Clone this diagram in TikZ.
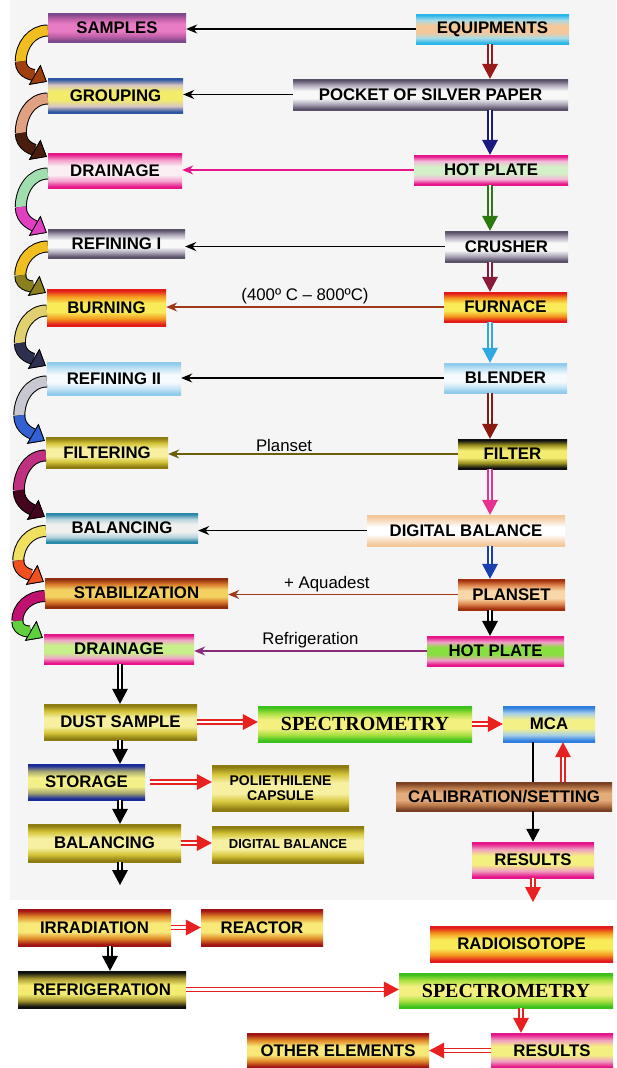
\documentclass[tikz,border=0pt]{standalone}
\usepackage{fontspec}
\setmainfont{Liberation Sans}
\newfontfamily\timesbold{Liberation Serif}
\usepackage{tikz}
\usetikzlibrary{arrows.meta, calc}
\usepackage{xcolor}

% stripe shading for the boxes: dark rim, soft band, light core
\pgfdeclareverticalshading[bandedge,bandmid,bandcore]{band}{100bp}{%
  color(0bp)=(bandedge); color(27bp)=(bandedge); color(35bp)=(bandmid);
  color(44bp)=(bandcore); color(56bp)=(bandcore); color(65bp)=(bandmid);
  color(73bp)=(bandedge); color(100bp)=(bandedge)}

\definecolor{crose}{HTML}{E6168A}
\definecolor{cred}{HTML}{E82020}
\definecolor{cbrown}{HTML}{A0381A}
\definecolor{cpurple}{HTML}{8A2A7A}
\definecolor{colivel}{HTML}{6A6008}
% chain arrows
\definecolor{dmaroon}{HTML}{9A1A1A}
\definecolor{dnavy}{HTML}{1A1A80}
\definecolor{dgreen}{HTML}{2A7A10}
\definecolor{dwine}{HTML}{8A1A3A}
\definecolor{dsky}{HTML}{30A8E0}
\definecolor{drust}{HTML}{8A1A10}
\definecolor{dpink}{HTML}{E83090}
\definecolor{dblue}{HTML}{1A40B0}
% curled arrows
\definecolor{cgold}{HTML}{F0BE1E}
\definecolor{cbark}{HTML}{A0400E}
\definecolor{csalmon}{HTML}{E0A082}
\definecolor{cdark}{HTML}{4A1E0E}
\definecolor{cmint}{HTML}{A0DEB0}
\definecolor{cpink}{HTML}{E040C0}
\definecolor{colive}{HTML}{8A8020}
\definecolor{ckhaki}{HTML}{E0D070}
\definecolor{cnavy}{HTML}{2E3050}
\definecolor{cgrey}{HTML}{C8C8D2}
\definecolor{cblue}{HTML}{3262D2}
\definecolor{cmag}{HTML}{C03080}
\definecolor{cwine}{HTML}{44061E}
\definecolor{cyel}{HTML}{F0E060}
\definecolor{corange}{HTML}{F05020}
\definecolor{cmagd}{HTML}{C01070}
\definecolor{cgreen}{HTML}{60D040}

\tikzset{
  box/.style n args={3}{/utils/exec={\definecolor{bandedge}{HTML}{#1}\definecolor{bandmid}{HTML}{#2}\definecolor{bandcore}{HTML}{#3}},
    shade, shading=band, inner sep=0pt, align=center,
    font=\bfseries\fontsize{16.8}{18}\selectfont},
  lbl/.style={font=\fontsize{16.8}{18}\selectfont, inner sep=2pt},
  feed/.style={draw=#1, line width=1.3pt, -{Stealth[length=11pt,width=9pt]}},
  dbl/.style={draw=#1, double=white, double distance=2.2pt, line width=1.5pt,
    -{Triangle[length=15pt,width=16pt,line width=0pt,fill=#1]}},
  curl/.style={draw=#1, line width=10pt, preaction={draw=black, line width=12pt}},
  curltip/.style={curl=#1, -{Triangle[length=14pt,width=23pt,line width=0.8pt,color=black,fill=#1]}},
}

\begin{document}
\begin{tikzpicture}[x=1pt, y=1pt]
  \useasboundingbox (0,0) rectangle (616,-1068);
  \fill[black!4] (10,0) rectangle (616,-900);
  \coordinate (spine) at (490,0);
  \coordinate (lspine) at (120,0);
  \coordinate (ispine) at (110,0);
  \coordinate (mcaline) at (533,0);
  \coordinate (mcaback) at (563,0);
  \coordinate (sspine) at (521,0);

  % left column
  \node[box={7A4A8A}{C060A8}{E87CC4}, minimum width=138pt, minimum height=29pt] (sam) at (117,-27.5) {SAMPLES};
  \node[box={2F56A0}{D8C8C0}{F2EC6A}, minimum width=135pt, minimum height=35pt] (grp) at (115.5,-95.5) {GROUPING};
  \node[box={E6168A}{F4A0CC}{FBEFF4}, minimum width=134pt, minimum height=35pt] (dr1) at (115,-170.5) {DRAINAGE};
  \node[box={5A5268}{B0AABB}{F8F8F8}, minimum width=137pt, minimum height=29pt] (rf1) at (116.5,-243.5) {REFINING I};
  \node[box={E41B1B}{F39A1E}{F9EB58}, minimum width=119pt, minimum height=37pt] (brn) at (106.5,-307.5) {BURNING};
  \node[box={8FCBEA}{C6E5F5}{F4FAFD}, minimum width=134pt, minimum height=33pt] (rf2) at (114,-378.5) {REFINING II};
  \node[box={8C7C12}{D4C53A}{F6F0A0}, minimum width=122pt, minimum height=31pt] (fil) at (107,-452.5) {FILTERING};
  \node[box={2A88A8}{B8D4DE}{F0F0F0}, minimum width=152pt, minimum height=30pt] (bal) at (122,-528) {BALANCING};
  \node[box={8E2E0E}{D8782A}{F3D060}, minimum width=183pt, minimum height=30pt] (stb) at (136.5,-593) {STABILIZATION};
  \node[box={E6168A}{F0A8C8}{C8F08A}, minimum width=150pt, minimum height=30pt] (dr2) at (119,-649) {DRAINAGE};

  % right column
  \node[box={2AB6E8}{A8DCE8}{F4C898}, minimum width=153pt, minimum height=30pt] (equ) at (492.5,-29) {EQUIPMENTS};
  \node[box={5A5268}{B0AABB}{F8F8F8}, minimum width=275pt, minimum height=31pt] (pck) at (430.5,-94.5) {POCKET OF SILVER PAPER};
  \node[box={E6168A}{F4B8D8}{D4F0C8}, minimum width=154pt, minimum height=30pt] (hp1) at (491,-170) {HOT PLATE};
  \node[box={5A5268}{B0AABB}{F8F8F8}, minimum width=123pt, minimum height=31pt] (cru) at (506.5,-246.5) {CRUSHER};
  \node[box={E41B1B}{F39A1E}{F9EB58}, minimum width=123pt, minimum height=30pt] (fur) at (505.5,-307) {FURNACE};
  \node[box={8FCBEA}{C6E5F5}{F4FAFD}, minimum width=123pt, minimum height=30pt] (bld) at (505.5,-378) {BLENDER};
  \node[box={101010}{9A9020}{F4EC70}, minimum width=109pt, minimum height=30pt] (flt) at (512.5,-454) {FILTER};
  \node[box={F2C898}{F8E0C8}{FFFFFF}, minimum width=198pt, minimum height=31pt] (dgb) at (466,-530.5) {DIGITAL BALANCE};
  \node[box={A0300E}{E08850}{F8D8A8}, minimum width=107pt, minimum height=31pt] (pls) at (511.5,-594.5) {PLANSET};
  \node[box={E6168A}{F0A0C8}{88E040}, minimum width=137pt, minimum height=30pt] (hp2) at (495.5,-651) {HOT PLATE};

  % curled arrows down the left side
  \draw[curl=cgold] ([yshift=-3pt]sam.west) to[out=180,in=90] ($(sam.west)!.5!(grp.west)+(-27,0)$) coordinate (c1);
  \draw[curltip=cbark] (c1) to[out=-90,in=150] ([xshift=-1pt,yshift=-4pt]grp.north west);
  \draw[curl=csalmon] ([yshift=-3pt]grp.west) to[out=180,in=90] ($(grp.west)!.5!(dr1.west)+(-27,0)$) coordinate (c2);
  \draw[curltip=cdark] (c2) to[out=-90,in=150] ([xshift=-1pt,yshift=-4pt]dr1.north west);
  \draw[curl=cmint] ([yshift=-3pt]dr1.west) to[out=180,in=90] ($(dr1.west)!.5!(rf1.west)+(-27,0)$) coordinate (c3);
  \draw[curltip=cpink] (c3) to[out=-90,in=150] ([xshift=-1pt,yshift=-4pt]rf1.north west);
  \draw[curl=cgold] ([yshift=-3pt]rf1.west) to[out=180,in=90] ($(rf1.west)!.5!(brn.west)+(-27,0)$) coordinate (c4);
  \draw[curltip=colive] (c4) to[out=-90,in=150] ([xshift=-1pt,yshift=-4pt]brn.north west);
  \draw[curl=ckhaki] ([yshift=-3pt]brn.west) to[out=180,in=90] ($(brn.west)!.5!(rf2.west)+(-27,0)$) coordinate (c5);
  \draw[curltip=cnavy] (c5) to[out=-90,in=150] ([xshift=-1pt,yshift=-4pt]rf2.north west);
  \draw[curl=cgrey] ([yshift=-3pt]rf2.west) to[out=180,in=90] ($(rf2.west)!.5!(fil.west)+(-27,0)$) coordinate (c6);
  \draw[curltip=cblue] (c6) to[out=-90,in=150] ([xshift=-1pt,yshift=-4pt]fil.north west);
  \draw[curl=cmag] ([yshift=-3pt]fil.west) to[out=180,in=90] ($(fil.west)!.5!(bal.west)+(-27,0)$) coordinate (c7);
  \draw[curltip=cwine] (c7) to[out=-90,in=150] ([xshift=-1pt,yshift=-4pt]bal.north west);
  \draw[curl=cyel] ([yshift=-3pt]bal.west) to[out=180,in=90] ($(bal.west)!.5!(stb.west)+(-27,0)$) coordinate (c8);
  \draw[curltip=corange] (c8) to[out=-90,in=150] ([xshift=-1pt,yshift=-4pt]stb.north west);
  \draw[curl=cmagd] ([yshift=-3pt]stb.west) to[out=180,in=90] ($(stb.west)!.5!(dr2.west)+(-27,0)$) coordinate (c9);
  \draw[curltip=cgreen] (c9) to[out=-90,in=150] ([xshift=-1pt,yshift=-4pt]dr2.north west);

  % right to left
  \draw[feed=black] (equ.west) -- (equ.west -| sam.east);
  \draw[feed=black] (pck.west) -- (pck.west -| grp.east);
  \draw[feed=crose] (hp1.west) -- (hp1.west -| dr1.east);
  \draw[feed=black] (cru.west) -- (cru.west -| rf1.east);
  \draw[feed=cbrown] (fur.west) -- (fur.west -| brn.east) node[lbl, midway, above] {(400º C – 800ºC)};
  \draw[feed=black] (bld.west) -- (bld.west -| rf2.east);
  \draw[feed=colivel] (flt.west) -- (flt.west -| fil.east) node[lbl, pos=0.6, above] {Planset};
  \draw[feed=black] (dgb.west) -- (dgb.west -| bal.east);
  \draw[feed=cbrown] (pls.west) -- (pls.west -| stb.east) node[lbl, pos=0.57, above] {+ Aquadest};
  \draw[feed=cpurple] (hp2.west) -- (hp2.west -| dr2.east) node[lbl, midway, above] {Refrigeration};

  % equipment chain
  \draw[dbl=dmaroon] (spine |- equ.south) -- (spine |- pck.north);
  \draw[dbl=dnavy] (spine |- pck.south) -- (spine |- hp1.north);
  \draw[dbl=dgreen] (spine |- hp1.south) -- (spine |- cru.north);
  \draw[dbl=dwine] (spine |- cru.south) -- (spine |- fur.north);
  \draw[dbl=dsky] (spine |- fur.south) -- (spine |- bld.north);
  \draw[dbl=drust] (spine |- bld.south) -- (spine |- flt.north);
  \draw[dbl=dpink] (spine |- flt.south) -- (spine |- dgb.north);
  \draw[dbl=dblue] (spine |- dgb.south) -- (spine |- pls.north);
  \draw[dbl=black] (spine |- pls.south) -- (spine |- hp2.north);

  % analysis
  \node[box={8C7C12}{D4C53A}{F6F0A0}, minimum width=153pt, minimum height=36pt] (dst) at (120.5,-722) {DUST SAMPLE};
  \node[box={3CC01C}{A8E040}{F4F080}, minimum width=214pt, minimum height=36pt, font=\timesbold\bfseries\fontsize{20}{22}\selectfont] (sp1) at (365,-724) {SPECTROMETRY};
  \node[box={2E7EE0}{A8D0E8}{F4F088}, minimum width=92pt, minimum height=36pt] (mca) at (549,-724) {MCA};
  \node[box={1A2A9A}{A8A870}{F4F088}, minimum width=117pt, minimum height=36pt] (sto) at (86.5,-782) {STORAGE};
  \node[box={8C7C12}{D4C53A}{F6F0A0}, minimum width=137pt, minimum height=46pt, font=\bfseries\fontsize{14}{15}\selectfont] (cap) at (280.5,-788) {POLIETHILENE\\CAPSULE};
  \node[box={8C7C12}{D4C53A}{F6F0A0}, minimum width=153pt, minimum height=38pt] (bl2) at (104.5,-843) {BALANCING};
  \node[box={8C7C12}{D4C53A}{F6F0A0}, minimum width=152pt, minimum height=37pt, font=\bfseries\fontsize{13}{14}\selectfont] (dg2) at (288,-844.5) {DIGITAL BALANCE};
  \node[box={7A4024}{B87848}{E2AC7C}, minimum width=216pt, minimum height=29pt] (cal) at (504,-796.5) {CALIBRATION/SETTING};
  \node[box={E6168A}{F0A0C0}{F4F080}, minimum width=122pt, minimum height=36pt] (re1) at (533,-860) {RESULTS};

  \coordinate (bl2end) at (120,-885);
  \coordinate (re1end) at (533,-902);
  \draw[dbl=black] (lspine |- dr2.south) -- (lspine |- dst.north);
  \draw[dbl=black] (lspine |- dst.south) -- (lspine |- sto.north);
  \draw[dbl=black] (lspine |- sto.south) -- (lspine |- bl2.north);
  \draw[dbl=black] (lspine |- bl2.south) -- (bl2end);
  \draw[dbl=cred] (dst.east) -- (dst.east -| sp1.west);
  \draw[dbl=cred] (sp1.east) -- (sp1.east -| mca.west);
  \draw[dbl=cred] ([xshift=5pt]sto.east) -- (sto.east -| cap.west);
  \draw[dbl=cred] (bl2.east) -- (bl2.east -| dg2.west);
  \draw[line width=2.2pt] (mcaline |- mca.south) -- (mcaline |- cal.north);
  \draw[line width=2.2pt, -{Triangle[length=13pt,width=13pt]}] (mcaline |- cal.south) -- (mcaline |- re1.north);
  \draw[dbl=cred] (mcaback |- cal.north) -- (mcaback |- mca.south);
  \draw[dbl=cred] (mcaline |- re1.south) -- (re1end);

  % irradiation
  \node[box={A01414}{E08828}{F8E878}, minimum width=153pt, minimum height=37pt] (irr) at (94.5,-927.5) {IRRADIATION};
  \node[box={A01414}{E08828}{F8E878}, minimum width=122pt, minimum height=37pt] (rea) at (262,-927.5) {REACTOR};
  \node[box={101010}{A89830}{F4EC70}, minimum width=168pt, minimum height=37pt] (rfg) at (102,-989.5) {REFRIGERATION};
  \node[box={E41B1B}{F39A1E}{F9EB58}, minimum width=183pt, minimum height=36pt] (rad) at (521.5,-944) {RADIOISOTOPE};
  \node[box={3CC01C}{A8E040}{F4F080}, minimum width=214pt, minimum height=35pt, font=\timesbold\bfseries\fontsize{20}{22}\selectfont] (sp2) at (506,-990.5) {SPECTROMETRY};
  \node[box={E6168A}{F0A0C0}{F4F080}, minimum width=122pt, minimum height=35pt] (re2) at (552,-1050.5) {RESULTS};
  \node[box={A01414}{E08828}{F8E878}, minimum width=182pt, minimum height=35pt] (oth) at (338,-1050.5) {OTHER ELEMENTS};

  \draw[dbl=cred] (irr.east) -- (irr.east -| rea.west);
  \draw[dbl=black] (ispine |- irr.south) -- (ispine |- rfg.north);
  \draw[dbl=cred] (rfg.east) -- (rfg.east -| sp2.west);
  \draw[dbl=cred] (sspine |- sp2.south) -- (sspine |- re2.north);
  \draw[dbl=cred] (re2.west) -- (re2.west -| oth.east);
\end{tikzpicture}
\end{document}
